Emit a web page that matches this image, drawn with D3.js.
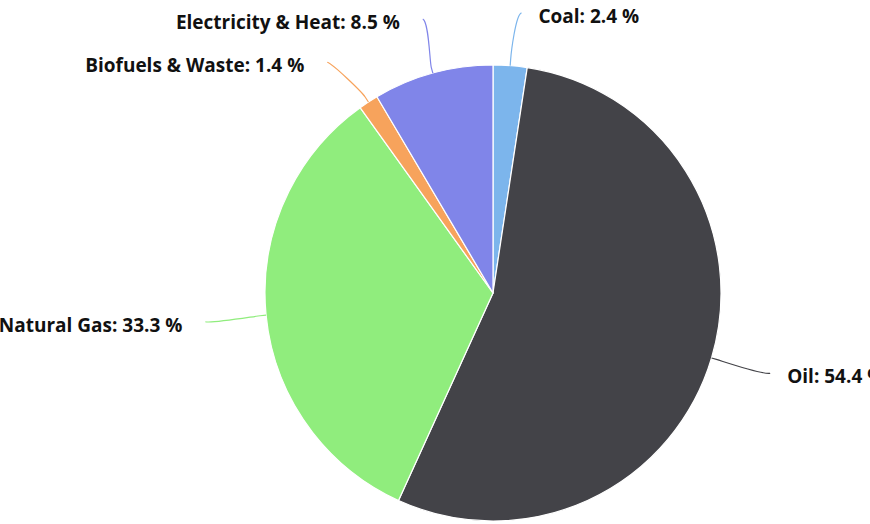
<!DOCTYPE html>
<html>
<head>
<meta charset="utf-8">
<script src="https://cdn.jsdelivr.net/npm/d3@7"></script>
<style>
  html, body { margin: 0; padding: 0; background: #fff; }
  svg { display: block; }
  .lbl { font-family: "Open Sans", "DejaVu Sans", sans-serif; font-weight: bold; font-size: 19px; fill: #111;
         paint-order: stroke; stroke: #fff; stroke-width: 2px; stroke-linejoin: round; }
</style>
</head>
<body>
<svg id="chart" width="870" height="524"></svg>
<script>
// Energy consumption share by source (%)
const categories = ["Coal", "Oil", "Natural Gas", "Biofuels & Waste", "Electricity & Heat"];
const shares = [2.4, 54.4, 33.3, 1.4, 8.5];
const colors = ["#7cb5ec", "#434348", "#90ed7d", "#f7a35c", "#8085e9"];

// offsets [dx, dy] applied to each label's natural spot on the outer ring, to keep labels apart
const labelNudge = [[7, 4], [4, -1], [-4, 1], [-10, 8], [5, 1]];

const W = 870, H = 524;
const cx = 493, cy = 293, radius = 228;
const labelRing = radius + 57;   // ring on which connector starts sit
const breakOffset = 6;           // connector break just outside the pie

const svg = d3.select("#chart");
const g = svg.append("g").attr("transform", `translate(${cx},${cy})`);

const data = categories.map((c, i) => ({ name: c, value: shares[i], color: colors[i], nudge: labelNudge[i] }));

const pie = d3.pie().value(d => d.value).sort(null);
const arcs = pie(data);
const arc = d3.arc().innerRadius(0).outerRadius(radius);

g.selectAll("path.slice")
  .data(arcs)
  .enter().append("path")
  .attr("class", "slice")
  .attr("d", arc)
  .attr("fill", d => d.data.color)
  .attr("stroke", "#fff")
  .attr("stroke-width", 1.2)
  .attr("stroke-linejoin", "round");

// point on a circle of radius rr at d3 pie angle a (clockwise from 12 o'clock)
const polar = (a, rr) => [Math.sin(a) * rr, -Math.cos(a) * rr];

arcs.forEach(d => {
  const mid = (d.startAngle + d.endAngle) / 2;
  const right = Math.sin(mid) >= 0;
  const edge = polar(mid, radius);
  const brk = polar(mid, radius + breakOffset);
  const nat = polar(mid, labelRing);
  const lx = nat[0] + d.data.nudge[0];
  const ly = nat[1] + d.data.nudge[1];

  const p = d3.path();
  p.moveTo(lx, ly);
  p.bezierCurveTo(lx + (right ? -6 : 6), ly + 2, 2 * brk[0] - edge[0], 2 * brk[1] - edge[1], brk[0], brk[1]);
  p.lineTo(edge[0], edge[1]);

  g.append("path")
    .attr("d", p.toString())
    .attr("fill", "none")
    .attr("stroke", d.data.color)
    .attr("stroke-width", 1.2);

  g.append("text")
    .attr("class", "lbl")
    .attr("x", lx + (right ? 17 : -23))
    .attr("y", ly + 3)
    .attr("dominant-baseline", "central")
    .attr("text-anchor", right ? "start" : "end")
    .text(`${d.data.name}: ${d.data.value} %`);
});
</script>
</body>
</html>
